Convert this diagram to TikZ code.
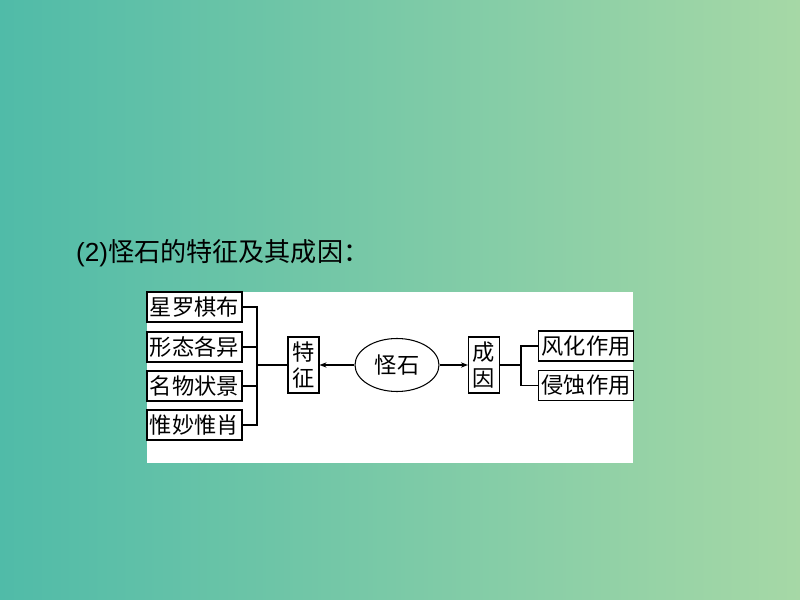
\documentclass[tikz,border=0pt]{standalone}
\usepackage{fontspec}
\setmainfont{Liberation Sans}
\newfontfamily\cjk{Noto Sans CJK SC}
\usetikzlibrary{arrows.meta}
\usetikzlibrary{shapes.geometric}
\definecolor{bgleft}{RGB}{80,187,168}
\definecolor{bgright}{RGB}{166,216,166}

\begin{document}
\begin{tikzpicture}[x=0.03cm,y=-0.03cm,
        kuang/.style={draw,line width=0.9pt,inner sep=0pt,minimum width=95*0.03cm,minimum height=30*0.03cm,font=\cjk\fontsize{19}{20}\selectfont},
        shu/.style={draw,line width=0.9pt,inner sep=0pt,minimum width=31*0.03cm,minimum height=56*0.03cm,align=center,font=\cjk\fontsize{19}{21.5}\selectfont},
        xian/.style={line width=0.9pt},
        jian/.style={line width=0.9pt,-{Stealth[length=6pt,width=4.5pt]}}]
        \shade[left color=bgleft,right color=bgright](0,0) rectangle (800,600);
        \fill[white](147,292) rectangle (633,463);
        \node[anchor=west,font=\fontsize{22.3}{24}\selectfont] (biaoti) at (72,253) {(2){\cjk 怪石的特征及其成因：}};
        % 左边四个
        \node[kuang] (xl) at (194.5,307) {星罗棋布};
        \node[kuang] (xt) at (194.5,347) {形态各异};
        \node[kuang] (mw) at (194.5,386) {名物状景};
        \node[kuang] (wm) at (194.5,425) {惟妙惟肖};
        \node[shu] (tz) at (303.5,365) {特\\征};
        \node[draw,ellipse,line width=0.9pt,minimum width=84*0.03cm,minimum height=53*0.03cm,inner sep=0pt,font=\cjk\fontsize{19}{20}\selectfont] (gs) at (397,365) {怪石};
        \node[shu] (cy) at (484,365) {成\\因};
        % 右边两个
        \node[kuang] (fh) at (586,346) {风化作用};
        \node[kuang] (qs) at (586,385.5) {侵蚀作用};
        \coordinate (zuo) at (257,365);
        \coordinate (you) at (521,365);
        \draw[xian](xl.east) -| (zuo);
        \draw[xian](wm.east) -| (zuo);
        \draw[xian](xt.east) -- (xt.east -| zuo);
        \draw[xian](mw.east) -- (mw.east -| zuo);
        \draw[xian](zuo) -- (tz.west);
        \draw[jian](gs.west) -- (tz.east);
        \draw[jian](gs.east) -- (cy.west);
        \draw[xian](cy.east) -- (you);
        \draw[xian](fh.west) -| (you) |- (qs.west);
    \end{tikzpicture}
\end{document}
